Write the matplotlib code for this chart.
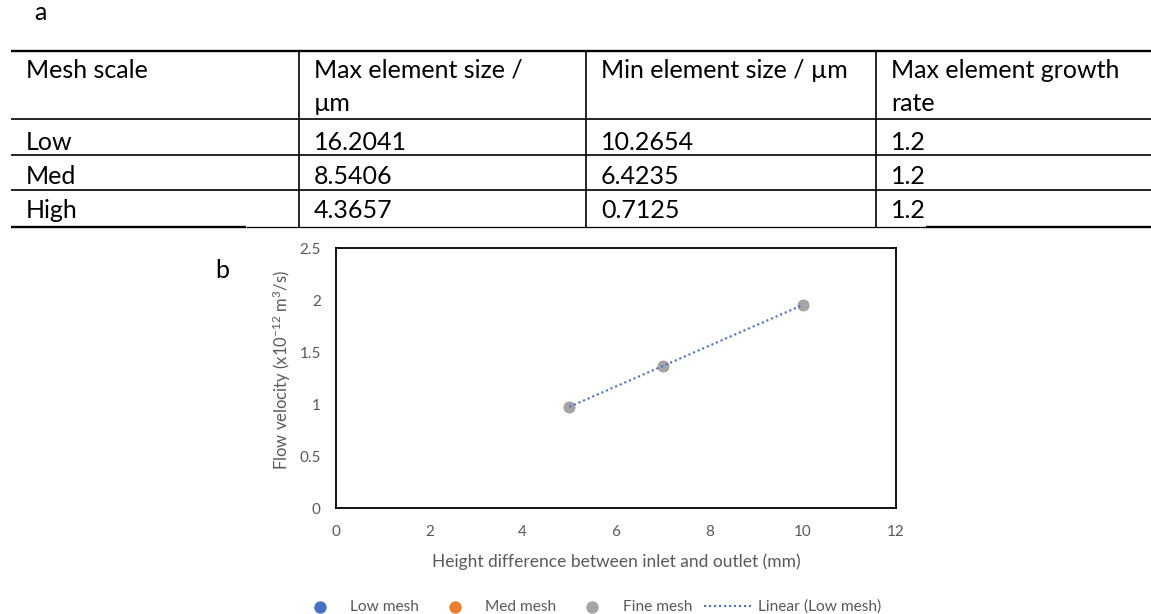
import numpy as np
import matplotlib
matplotlib.use("Agg")
import matplotlib.pyplot as plt

# ---- data ----
table_header = ["Mesh scale", "Max element size /\nµm", "Min element size / µm", "Max element growth\nrate"]
mesh_scale = ["Low", "Med", "High"]
max_elem = ["16.2041", "8.5406", "4.3657"]
min_elem = ["10.2654", "6.4235", "0.7125"]
growth = ["1.2", "1.2", "1.2"]

height_mm = [5, 7, 10]
low_mesh = [0.97, 1.37, 1.95]
med_mesh = [0.97, 1.37, 1.95]
fine_mesh = [0.97, 1.37, 1.95]

x_ticks = [0, 2, 4, 6, 8, 10, 12]
y_ticks = [0, 0.5, 1, 1.5, 2, 2.5]
y_ticklabels = ["0", "0.5", "1", "1.5", "2", "2.5"]

FONT = "Lato"
GRAY = "#595959"
plt.rcParams["mathtext.default"] = "regular"
plt.rcParams["font.family"] = [FONT, "DejaVu Sans"]

fig = plt.figure(figsize=(11.51, 6.14), dpi=100)

# overlay in pixel coordinates for table
ov = fig.add_axes([0, 0, 1, 1])
ov.set_xlim(0, 1151)
ov.set_ylim(614, 0)
ov.axis("off")

ov.text(40, 20, "a", fontsize=18, ha="center", va="baseline")

col_x = [11, 299, 586, 876, 1151]
row_y = [51, 119, 155, 190, 227]
ov.plot([11, 1151], [row_y[0], row_y[0]], color="black", lw=1.7, solid_capstyle="butt")
for y in row_y[1:-1]:
    ov.plot([11, 1151], [y, y], color="black", lw=1.2, solid_capstyle="butt")
ov.plot([11, 246], [row_y[-1], row_y[-1]], color="black", lw=1.7, solid_capstyle="butt")
ov.plot([246, 926], [row_y[-1], row_y[-1]], color="black", lw=0.9, solid_capstyle="butt")
ov.plot([926, 1151], [row_y[-1], row_y[-1]], color="black", lw=1.7, solid_capstyle="butt")
for x in col_x[1:-1]:
    ov.plot([x, x], [row_y[0], row_y[-1]], color="black", lw=1.2, solid_capstyle="butt")

pad = 15
head_baselines = [78, 111]
for j, h in enumerate(table_header):
    for k, line in enumerate(h.split("\n")):
        ov.text(col_x[j] + pad, head_baselines[k], line, fontsize=18,
                ha="left", va="baseline")
row_baselines = [150, 184, 218]
rows = list(zip(mesh_scale, max_elem, min_elem, growth))
for i, r in enumerate(rows):
    for j, v in enumerate(r):
        ov.text(col_x[j] + pad, row_baselines[i], v, fontsize=18, ha="left", va="baseline")

ov.text(222, 278, "b", fontsize=18, ha="center", va="baseline")

# ---- chart ----
ax = fig.add_axes([336 / 1151, (614 - 508) / 614, 560 / 1151, 260 / 614])
ax.scatter(height_mm, low_mesh, s=52, color="#4472C4", zorder=3, label="Low mesh")
ax.scatter(height_mm, med_mesh, s=52, color="#ED7D31", zorder=3, label="Med mesh")
ax.scatter(height_mm, fine_mesh, s=52, color="#A5A5A5", zorder=4, label="Fine mesh")
coef = np.polyfit(height_mm, low_mesh, 1)
xs = np.array([min(height_mm), max(height_mm)])
ax.plot(xs, np.polyval(coef, xs), linestyle=(0, (1, 1.4)), color="#4472C4", lw=1.5,
        dash_capstyle="butt", zorder=5, label="Linear (Low mesh)")

ax.set_xlim(0, 12)
ax.set_ylim(0, 2.5)
ax.set_xticks(x_ticks)
ax.set_xticklabels([str(t) for t in x_ticks])
ax.set_yticks(y_ticks)
ax.set_yticklabels(y_ticklabels)
ax.tick_params(length=0, labelsize=11, colors=GRAY)
ax.tick_params(axis="x", pad=12)
ax.tick_params(axis="y", pad=11)
for sp in ax.spines.values():
    sp.set_color("black")
    sp.set_linewidth(1.3)

ax.set_xlabel("Height difference between inlet and outlet (mm)", fontsize=12.5,
              color=GRAY)
ax.xaxis.label.set_va("center")
ax.xaxis.set_label_coords(0.5, (508 - 562) / 260)
ax.set_ylabel("Flow velocity (x10$^{-12}$ m$^3$/s)", fontsize=12,
              color=GRAY)
ax.yaxis.label.set_va("center")
ax.yaxis.set_label_coords((282 - 336) / 560, (508 - 370) / 260)

leg = ax.legend(loc="center", bbox_to_anchor=((589 - 336) / 560, (508 - 607) / 260),
                ncol=4, frameon=False, handlelength=3.0, handletextpad=0.45,
                columnspacing=0.8, markerscale=1.1, prop={"size": 11.2})
for t in leg.get_texts():
    t.set_color(GRAY)

fig.savefig("out.png", dpi=100)
